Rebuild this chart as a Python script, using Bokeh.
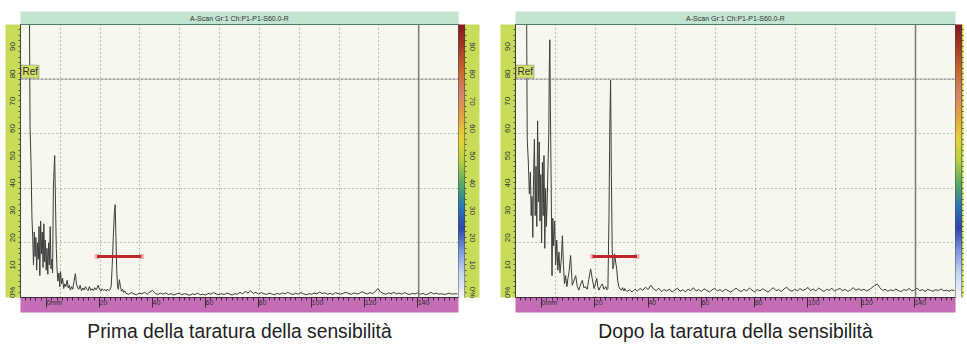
import numpy as np
from bokeh.plotting import figure
from bokeh.models import (Range1d, LinearAxis, FixedTicker, CustomJSTickFormatter, Span, Label,
                          ColorBar, LinearColorMapper, Grid)
from bokeh.layouts import row
from bokeh.embed import file_html
from bokeh.resources import INLINE

# ---------------- texts ----------------
HEADER = "A-Scan Gr:1 Ch:P1-P1-S60.0-R"
CAPTION_BEFORE = "Prima della taratura della sensibilità"
CAPTION_AFTER = "Dopo la taratura della sensibilità"
REF_TEXT = "Ref"

# ---------------- axes ----------------
X_START, X_END = -9.8, 155.4          # mm
Y_START, Y_END = 0, 100               # % screen height
X_MAJOR = [0, 20, 40, 60, 80, 100, 120, 140]
X_MINOR = list(range(-8, 156, 2))
Y_MAJOR = [0, 10, 20, 30, 40, 50, 60, 70, 80, 90]
Y_MINOR = list(range(2, 100, 2))
Y_GRID = [20, 40, 60]
REF_LEVEL = 80
N_DIV = 11                            # screen divisions across the A-scan

# gate (same in both scans)
GATE_START, GATE_END, GATE_LEVEL = 19.1, 35.8, 15

# ---------------- A-scan before calibration ----------------
before_x = [-9.8, -6.4, -6.2, -5.8, -5.5, -5.2, -4.9, -4.6, -4.3, -4.0, -3.7, -3.4, -3.1, -2.8,
            -2.5, -2.2, -1.9, -1.6, -1.3, -1.0, -0.7, -0.4, -0.1, 0.2, 0.5, 0.8, 1.1, 1.4, 1.7,
            2.0, 2.3, 2.6, 2.9, 3.1, 3.4, 3.7, 4.0, 4.3, 4.7, 5.0, 5.3, 5.7, 6.1, 6.5, 6.9, 7.3,
            7.8, 8.2, 8.6, 9.0, 9.5, 9.9, 10.4, 10.9, 11.3, 11.8, 12.2, 12.7, 13.2, 13.7, 14.2,
            14.7, 15.2, 15.7, 16.2, 16.7, 17.2, 17.7, 18.2, 18.7, 19.1, 19.5, 20.0, 20.5, 21.0,
            21.5, 22.0, 22.5, 23.0, 23.5, 24.0, 24.4, 24.8, 25.2, 25.6, 25.9, 26.2, 26.5, 26.8,
            27.1, 27.5, 27.9, 28.3, 28.7, 29.1, 29.5]
before_y = [100, 100, 63, 48, 30, 22, 12, 24, 15, 22, 10, 20, 14, 26,
            8, 28, 16, 24, 11, 27, 13, 21, 10, 18, 8.5, 20, 12, 26, 10.5,
            14, 9, 40, 48, 52, 35, 18, 10, 6, 9, 4, 9.5, 5, 7, 3.3, 5, 4,
            6.3, 3.5, 4.5, 2.7, 4, 3, 6, 8.7, 5, 3.5, 3, 4.5, 2.5, 3.5, 2.7,
            4, 3, 2.5, 4, 2.6, 3.2, 2.5, 3.6, 2.8, 3.5, 4.5, 3, 2.3, 3.2,
            2.6, 3, 2.4, 3.1, 2.5, 3, 4, 12, 22, 31, 34, 22, 10, 4,
            3, 6.5, 4, 2.3, 3, 1.8, 2.4]
# noise floor, one sample per mm from 30 mm
before_floor_start = 30
before_floor = [1.5, 1.2, 1.8, 1.3, 1.0, 1.6, 1.4, 1.9, 1.2, 2.0, 2.6, 1.5, 1.1, 1.6, 1.2, 1.7,
                1.1, 1.4, 0.9, 1.3, 1.6, 1.0, 1.4, 1.2, 0.8, 1.3, 1.1, 1.6, 1.0, 1.2, 0.9, 1.5,
                1.2, 1.8, 1.3, 1.0, 1.4, 1.1, 1.6, 1.3, 0.9, 1.4, 1.2, 1.9, 1.4, 2.2, 1.6, 2.4,
                1.5, 1.9, 1.2, 1.8, 1.4, 1.1, 1.6, 1.3, 1.0, 1.5, 1.2, 1.7, 1.3, 1.9, 1.4, 1.1,
                1.6, 1.2, 1.8, 1.3, 1.0, 1.4, 1.2, 1.6, 1.3, 2.0, 1.4, 1.7, 1.2, 1.5, 1.1, 1.8,
                1.4, 1.2, 1.6, 1.9, 1.4, 1.2, 1.7, 1.3, 1.5, 2.1, 1.6, 1.3, 1.8, 1.4, 2.2, 3.3,
                2.0, 1.5, 1.2, 1.7, 1.4, 1.9, 1.3, 1.6, 1.2, 1.8, 1.4, 1.1, 1.5, 1.3, 1.7, 1.2,
                1.5, 1.0, 1.4, 1.9, 1.3, 1.6, 1.2, 1.4, 1.1, 1.3, 1.6, 1.2, 1.4, 1.3]

# ---------------- A-scan after calibration ----------------
after_x = [-9.8, -5.6, -5.4, -5.0, -4.6, -4.2, -3.9, -3.6, -3.3, -3.0, -2.7, -2.4, -2.1, -1.8,
           -1.5, -1.2, -0.9, -0.6, -0.3, 0.0, 0.3, 0.6, 0.9, 1.2, 1.5, 1.8, 2.1, 2.4, 2.7, 2.9,
           3.1, 3.3, 3.6, 3.9, 4.2, 4.5, 4.9, 5.3, 5.7, 6.1, 6.5, 6.9, 7.4, 7.8, 8.2, 8.6, 9.0,
           9.5, 9.9, 10.3, 10.9, 11.5, 12.1, 12.8, 13.4, 14.0, 14.7, 15.3, 15.9, 16.5, 17.1,
           17.7, 18.4, 19.0, 19.7, 20.2, 20.7, 21.1, 21.5, 22.1, 22.8, 23.4, 24.1, 24.5, 24.9,
           25.3, 25.6, 25.9, 26.2, 26.5, 26.8, 27.1, 27.4, 27.8, 28.2, 28.6, 29.0, 29.5, 30.0,
           30.4, 30.9, 31.3, 31.6]
after_y = [100, 100, 58, 50, 38, 46, 30, 37, 22, 45, 58, 30, 48, 26,
           64.7, 35, 57, 28, 45, 20, 49.5, 30, 52, 18, 40, 26, 35, 48, 60, 85,
           94.4, 70, 40, 8, 29, 19, 28, 12, 21, 10, 16.7, 9, 14, 22.6, 12, 5, 8,
           4, 7, 9.4, 15.4, 4.5, 6, 8, 4, 2.7, 5, 6.3, 3.5, 4, 3,
           6.5, 10.5, 7, 3.3, 5, 7, 4, 2.7, 4, 5, 3, 4, 2.8, 3.3,
           30, 62, 79.6, 45, 18, 10.5, 12, 16, 13, 10.5, 6, 4, 3, 2.7,
           3.6, 2.4, 3.3, 2.6]
after_floor_start = 32
after_floor = [2.2, 2.8, 2.0, 3.0, 2.4, 3.3, 2.6, 3.8, 2.9, 4.5, 3.2, 2.5, 3.4, 2.2, 2.9, 2.4,
               3.1, 2.0, 2.7, 3.4, 2.3, 2.8, 2.1, 3.0, 2.5, 3.6, 2.4, 2.9, 2.2, 3.2, 2.6, 2.0,
               2.8, 3.3, 2.4, 2.9, 2.1, 3.1, 2.5, 2.0, 2.7, 3.4, 2.6, 2.2, 3.0, 2.4, 3.5, 2.7,
               2.1, 2.9, 2.4, 3.2, 2.6, 2.0, 2.8, 3.6, 2.5, 2.9, 2.2, 3.1, 3.8, 2.7, 2.3, 3.0,
               2.4, 3.3, 2.6, 2.9, 3.7, 2.5, 3.1, 2.4, 3.5, 2.8, 2.2, 3.0, 2.6, 3.4, 2.3, 2.9,
               3.3, 2.5, 3.0, 2.2, 2.8, 3.6, 2.7, 3.2, 2.6, 3.0, 2.4, 2.9, 3.6, 4.4, 5.0, 3.6,
               2.6, 3.0, 2.3, 2.8, 2.4, 3.1, 2.5, 2.2, 2.9, 2.6, 3.3, 2.4, 2.8, 3.4, 2.5, 2.9,
               2.2, 3.0, 2.6, 2.3, 2.9, 2.5, 3.1, 2.4, 2.7, 2.3, 2.8, 2.5]

# ---------------- styles ----------------
UI_FONT = "Liberation Sans"
PLOT_BG = "#f6f8ef"
HEADER_BG = "#c4e4d2"
STRIP_BG = "#c8dc5a"
RULER_BG = "#c46cb4"
TRACE_COLOR = "#3c3c3c"
GATE_COLOR = "#c0262c"
LABEL_SHIFT = 1.9   # labels sit just above their level
# colour scale of the amplitude bar, bottom -> top
CBAR_ANCHORS = ["#f4f4fa", "#c8d8f0", "#7e9ae0", "#2e46b0", "#2a78b4", "#58aa62", "#b4d046",
                "#e6d23c", "#e2a242", "#d6826a", "#c8682e", "#a83a26", "#8a1a20"]


def smooth_palette(anchors, n):
    rgb = np.array([[int(c[i:i + 2], 16) for i in (1, 3, 5)] for c in anchors], float)
    out = []
    for t in np.linspace(0, len(anchors) - 1, n):
        i = min(int(t), len(anchors) - 2)
        f = t - i
        c = rgb[i] * (1 - f) + rgb[i + 1] * f
        out.append("#%02x%02x%02x" % tuple(int(round(v)) for v in c))
    return out


PALETTE = smooth_palette(CBAR_ANCHORS, 120)


def level_axis(show_labels):
    fmt = CustomJSTickFormatter(args=dict(shift=LABEL_SHIFT),
                                code="const v = Math.round(tick - shift); return v === 0 ? '0%' : String(v);")
    major = [v + LABEL_SHIFT for v in Y_MAJOR] if show_labels else []
    return LinearAxis(ticker=FixedTicker(ticks=major, minor_ticks=Y_MINOR),
                      formatter=fmt,
                      major_label_orientation="vertical",
                      major_label_text_font=UI_FONT,
                      major_label_text_font_size="8px",
                      major_label_text_color="#303030",
                      major_label_standoff=1,
                      major_tick_out=2 if show_labels else 6, major_tick_in=0,
                      major_tick_line_color=None,
                      minor_tick_out=2, minor_tick_in=0, minor_tick_line_color="#4a5a20",
                      axis_line_color="#404040",
                      background_fill_color=STRIP_BG)


def make_panel(xs, ys, floor_start, floor, caption, width, border_left, border_right, strip_labels):
    p = figure(width=width, height=344,
               x_range=Range1d(X_START, X_END), y_range=Range1d(Y_START, Y_END),
               x_axis_location=None, y_axis_location=None,
               output_backend="svg", toolbar_location=None, tools="",
               min_border_left=border_left, min_border_right=border_right,
               min_border_top=24, min_border_bottom=45,
               background_fill_color=PLOT_BG, border_fill_color="white",
               outline_line_color="#4a4a4a", outline_line_width=1)
    for g in list(p.grid):
        g.visible = False

    # header bar
    hdr = LinearAxis(ticker=FixedTicker(ticks=[]), axis_label=HEADER,
                     axis_label_standoff=3, axis_label_text_font=UI_FONT,
                     axis_label_text_font_size="7px", axis_label_text_font_style="normal",
                     axis_label_text_color="#303030",
                     axis_line_color="#4f7f60", major_tick_out=0, minor_tick_out=0,
                     major_tick_line_color=None, minor_tick_line_color=None,
                     background_fill_color=HEADER_BG)
    p.add_layout(hdr, "above")

    # amplitude strip (left)
    p.add_layout(level_axis(True), "left")

    # colour bar + right strip
    mapper = LinearColorMapper(palette=PALETTE, low=Y_START, high=Y_END)
    cb = ColorBar(color_mapper=mapper, width=6, padding=0, margin=0,
                  ticker=FixedTicker(ticks=[]),
                  major_tick_line_color=None, minor_tick_line_color=None,
                  major_tick_out=0, label_standoff=0,
                  bar_line_color=None, border_line_color=None, background_fill_alpha=0)
    p.add_layout(cb, "right")
    p.add_layout(level_axis(strip_labels), "right")

    # distance ruler (bottom)
    xfmt = CustomJSTickFormatter(code="return tick === 0 ? '0mm' : String(tick);")
    xa = LinearAxis(ticker=FixedTicker(ticks=X_MAJOR, minor_ticks=X_MINOR), formatter=xfmt,
                    major_label_orientation=-1e-6, major_label_standoff=-5,
                    major_label_text_font=UI_FONT, major_label_text_font_size="7px",
                    major_label_text_color="#303030",
                    major_tick_out=10, major_tick_in=0, minor_tick_out=3, minor_tick_in=0,
                    major_tick_line_color="#3a2a3a", minor_tick_line_color="#3a2a3a",
                    axis_line_color="#3a2a3a", background_fill_color=RULER_BG)
    p.add_layout(xa, "below")

    # caption
    cap = LinearAxis(ticker=FixedTicker(ticks=[]), axis_label=caption,
                     axis_label_standoff=8, axis_label_text_font=UI_FONT,
                     axis_label_text_font_size="19.3px", axis_label_text_font_style="normal",
                     axis_label_text_color="#1e1e1e",
                     axis_line_color=None, major_tick_out=0, minor_tick_out=0,
                     major_tick_line_color=None, minor_tick_line_color=None)
    p.add_layout(cap, "below")

    # grids: screen divisions
    step = (X_END - X_START) / N_DIV
    p.add_layout(Grid(dimension=0, ticker=FixedTicker(ticks=[X_START + k * step for k in range(1, N_DIV - 1)]),
                      grid_line_color="#8a8a8a", grid_line_dash="1 3", grid_line_width=1))
    p.add_layout(Grid(dimension=1, ticker=FixedTicker(ticks=Y_GRID),
                      grid_line_color="#8a8a8a", grid_line_dash="1 3", grid_line_width=1))
    p.add_layout(Span(location=X_START + (N_DIV - 1) * step, dimension="height",
                      line_color="#7a7a7a", line_width=1.5))
    p.add_layout(Span(location=REF_LEVEL, dimension="width",
                      line_color="#6e6e6e", line_dash="3 1", line_width=1))
    p.add_layout(Label(x=X_START, y=REF_LEVEL, text=REF_TEXT, x_offset=1, y_offset=1,
                       text_font=UI_FONT, text_font_size="10px", text_color="#303030",
                       text_baseline="bottom", padding=1,
                       background_fill_color="#d2e26a", border_line_color="#808080",
                       border_line_dash="1 1"))

    # trace
    fx = [floor_start + i for i in range(len(floor))]
    p.line(list(xs) + fx, list(ys) + list(floor), line_color=TRACE_COLOR, line_width=1)

    # gate
    p.scatter([GATE_START, GATE_END], [GATE_LEVEL, GATE_LEVEL], marker="square", size=5,
              fill_color="#f2b4b4", line_color=None)
    p.segment(x0=[GATE_START], y0=[GATE_LEVEL], x1=[GATE_END], y1=[GATE_LEVEL],
              line_color=GATE_COLOR, line_width=3)
    return p


p1 = make_panel(before_x, before_y, before_floor_start, before_floor, CAPTION_BEFORE,
                width=490, border_left=20, border_right=32, strip_labels=True)
p2 = make_panel(after_x, after_y, after_floor_start, after_floor, CAPTION_AFTER,
                width=477, border_left=25, border_right=12, strip_labels=False)

layout = row(p1, p2)
open("out.html", "w").write(file_html(layout, INLINE))
